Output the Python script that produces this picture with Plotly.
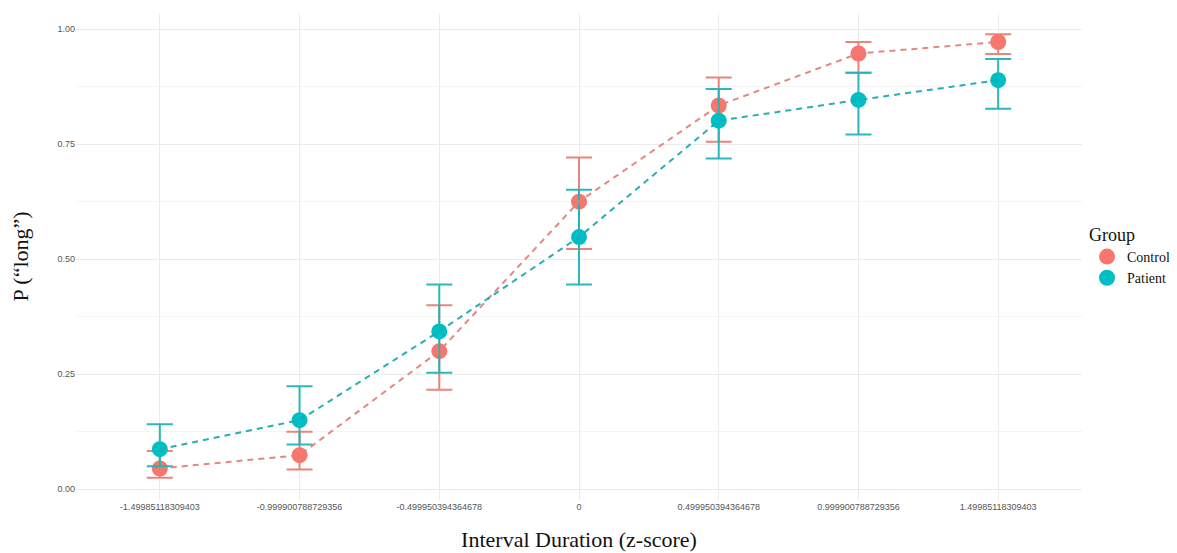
import plotly.graph_objects as go

categories = ["-1.49985118309403", "-0.999900788729356", "-0.499950394364678", "0",
              "0.499950394364678", "0.999900788729356", "1.49985118309403"]

control_mean = [0.045, 0.074, 0.300, 0.625, 0.834, 0.947, 0.972]
control_upper = [0.083, 0.125, 0.400, 0.721, 0.895, 0.972, 0.989]
control_lower = [0.025, 0.043, 0.216, 0.522, 0.755, 0.905, 0.946]

patient_mean = [0.087, 0.150, 0.343, 0.548, 0.801, 0.846, 0.889]
patient_upper = [0.141, 0.224, 0.445, 0.651, 0.870, 0.905, 0.935]
patient_lower = [0.050, 0.097, 0.253, 0.445, 0.719, 0.771, 0.827]

groups = ["Control", "Patient"]
point_colors = ["#F8766D", "#00BFC4"]
err_colors = ["rgba(233,120,110,0.9)", "rgba(30,180,184,0.95)"]
line_colors = ["rgba(226,130,120,0.95)", "rgba(30,170,175,0.95)"]

series = [
    (control_mean, control_upper, control_lower),
    (patient_mean, patient_upper, patient_lower),
]

fig = go.Figure()

for g, (m, u, l), pc, ec, lc in zip(groups, series, point_colors, err_colors, line_colors):
    fig.add_trace(go.Scatter(
        x=categories, y=m, mode="markers",
        marker=dict(size=16, color=pc),
        error_y=dict(type="data", symmetric=False,
                     array=[a - b for a, b in zip(u, m)],
                     arrayminus=[b - c for b, c in zip(m, l)],
                     color=ec, thickness=2, width=13),
        showlegend=False, hoverinfo="skip",
    ))

for g, (m, u, l), pc, ec, lc in zip(groups, series, point_colors, err_colors, line_colors):
    fig.add_trace(go.Scatter(
        x=categories, y=m, mode="lines",
        line=dict(color=lc, width=2, dash="6px,5px"),
        showlegend=False, hoverinfo="skip",
    ))

for g, pc in zip(groups, point_colors):
    fig.add_trace(go.Scatter(
        x=[None], y=[None], mode="markers", name=g,
        marker=dict(size=17, color=pc),
    ))

fig.update_layout(
    width=1169, height=545,
    paper_bgcolor="white", plot_bgcolor="white",
    margin=dict(l=68, r=95, t=5, b=53, autoexpand=False),
    font=dict(family="Liberation Sans, Arial, sans-serif"),
    legend=dict(
        title=dict(text="Group", font=dict(family="Liberation Serif, Times New Roman, serif", size=18, color="#111")),
        font=dict(family="Liberation Serif, Times New Roman, serif", size=14, color="#111"),
        x=1.005, xanchor="left", y=0.58, yanchor="top",
        tracegroupgap=0, itemwidth=30,
    ),
    xaxis=dict(
        type="category", categoryorder="array", categoryarray=categories,
        range=[-0.6, 6.6], automargin=False,
        showgrid=True, gridcolor="#ebebeb", gridwidth=1,
        zeroline=False, showline=False, ticks="",
        tickfont=dict(size=9, color="#555555"),
        title=dict(text="Interval Duration (z-score)",
                   font=dict(family="Liberation Serif, Times New Roman, serif", size=22, color="#111"),
                   standoff=20),
    ),
    yaxis=dict(
        range=[-0.0235, 1.035], automargin=False,
        tickvals=[0, 0.25, 0.5, 0.75, 1.0], tickformat=".2f",
        showgrid=True, gridcolor="#ebebeb", gridwidth=1,
        minor=dict(tickvals=[0.125, 0.375, 0.625, 0.875], showgrid=True, gridcolor="#f4f4f4", gridwidth=1),
        zeroline=False, showline=False, ticks="",
        tickfont=dict(size=9, color="#555555"),
        title=dict(text="P (\u201clong\u201d)",
                   font=dict(family="Liberation Serif, Times New Roman, serif", size=22, color="#111"),
                   standoff=24),
    ),
)

fig.write_html("out.html")
